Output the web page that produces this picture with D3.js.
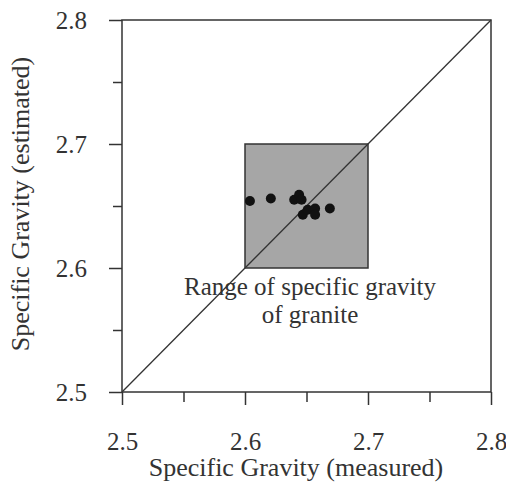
<!DOCTYPE html>
<html>
<head>
<meta charset="utf-8">
<script src="https://cdn.jsdelivr.net/npm/d3@7"></script>
<style>
  body { margin: 0; background: #fff; }
  text { font-family: "Liberation Serif", "Times New Roman", serif; fill: #333; }
</style>
</head>
<body>
<div id="chart"></div>
<script>
// measured vs estimated specific gravity
var measured  = [2.604, 2.621, 2.640, 2.644, 2.646, 2.647, 2.651, 2.657, 2.657, 2.669];
var estimated = [2.654, 2.656, 2.655, 2.659, 2.655, 2.643, 2.647, 2.648, 2.643, 2.648];
var majorTicks = [2.5, 2.6, 2.7, 2.8];
var minorTicks = [2.55, 2.65, 2.75];
var graniteRange = [2.6, 2.7];
var labelLines = ["Range of specific gravity", "of granite"];

var width = 506, height = 487;
var m = { left: 122, right: 491, top: 20, bottom: 392 };
var serif = "'Liberation Serif', 'Times New Roman', serif";

var svg = d3.select("#chart").append("svg")
    .attr("width", width)
    .attr("height", height);

var x = d3.scaleLinear().domain([2.5, 2.8]).range([m.left, m.right]);
var y = d3.scaleLinear().domain([2.5, 2.8]).range([m.bottom, m.top]);

// granite range box
svg.append("rect")
    .attr("x", x(graniteRange[0]))
    .attr("y", y(graniteRange[1]))
    .attr("width", x(graniteRange[1]) - x(graniteRange[0]))
    .attr("height", y(graniteRange[0]) - y(graniteRange[1]))
    .attr("fill", "#a6a6a6")
    .attr("stroke", "#333")
    .attr("stroke-width", 1.5);

// 1:1 line
svg.append("line")
    .attr("x1", x(2.5)).attr("y1", y(2.5))
    .attr("x2", x(2.8)).attr("y2", y(2.8))
    .attr("stroke", "#333")
    .attr("stroke-width", 1.3);

// frame
svg.append("rect")
    .attr("x", m.left).attr("y", m.top)
    .attr("width", m.right - m.left).attr("height", m.bottom - m.top)
    .attr("fill", "none")
    .attr("stroke", "#333")
    .attr("stroke-width", 1.5);

// points
svg.selectAll("circle.pt")
    .data(measured)
    .enter().append("circle")
    .attr("class", "pt")
    .attr("cx", function (d) { return x(d); })
    .attr("cy", function (d, i) { return y(estimated[i]); })
    .attr("r", 5)
    .attr("fill", "#111");

// axes
function styleAxis(g) {
    g.attr("font-family", serif);
    g.select(".domain").remove();
    g.selectAll(".tick line").attr("stroke", "#333").attr("stroke-width", 1.5);
}

svg.append("g")
    .attr("transform", "translate(0," + m.bottom + ")")
    .call(d3.axisBottom(x).tickValues(majorTicks).tickSize(13).tickFormat(d3.format(".1f")))
    .call(styleAxis)
    .selectAll("text")
    .attr("y", 58)
    .attr("dy", 0)
    .attr("font-size", 25)
    .attr("fill", "#333");

svg.append("g")
    .attr("transform", "translate(0," + m.bottom + ")")
    .call(d3.axisBottom(x).tickValues(minorTicks).tickSize(10).tickFormat(""))
    .call(styleAxis);

svg.append("g")
    .attr("transform", "translate(" + m.left + ",0)")
    .call(d3.axisLeft(y).tickValues(majorTicks).tickSize(13).tickFormat(d3.format(".1f")))
    .call(styleAxis)
    .selectAll("text")
    .attr("x", -35)
    .attr("dy", "0.34em")
    .attr("font-size", 25)
    .attr("fill", "#333");

svg.append("g")
    .attr("transform", "translate(" + m.left + ",0)")
    .call(d3.axisLeft(y).tickValues(minorTicks).tickSize(9).tickFormat(""))
    .call(styleAxis);

// axis titles
svg.append("text")
    .attr("x", 296)
    .attr("y", 476)
    .attr("text-anchor", "middle")
    .attr("font-size", 26)
    .text("Specific Gravity (measured)");

svg.append("text")
    .attr("transform", "translate(29,204) rotate(-90)")
    .attr("text-anchor", "middle")
    .attr("font-size", 26)
    .text("Specific Gravity (estimated)");

// range label
svg.selectAll("text.note")
    .data(labelLines)
    .enter().append("text")
    .attr("class", "note")
    .attr("x", 310)
    .attr("y", function (d, i) { return 295 + i * 28; })
    .attr("text-anchor", "middle")
    .attr("font-size", 25)
    .text(function (d) { return d; });
</script>
</body>
</html>
